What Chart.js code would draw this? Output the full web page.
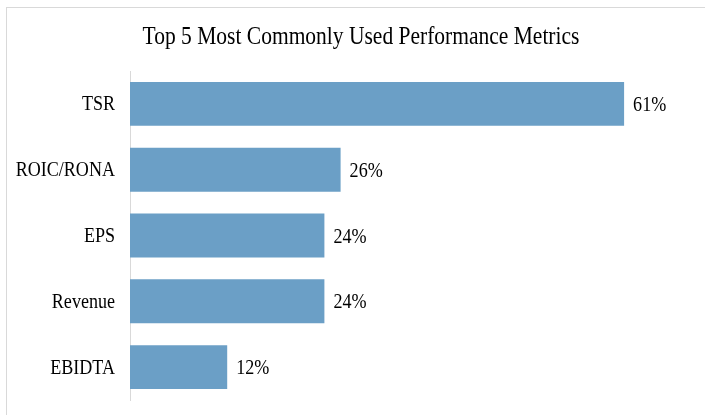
<!DOCTYPE html>
<html lang="en">
<head>
    <meta charset="UTF-8">
    <title>Top 5 Most Commonly Used Performance Metrics</title>
    <script src="https://cdn.jsdelivr.net/npm/chart.js@4.4.1/dist/chart.umd.min.js"></script>
    <style>
        body {
            margin: 0;
            background: #fff;
        }
        .wrap {
            position: relative;
            width: 705px;
            height: 415px;
        }
        .frame {
            position: absolute;
            left: 6px;
            top: 7px;
            width: 720px;
            height: 430px;
            border-left: 1px solid #d9d9d9;
            border-top: 1px solid #d9d9d9;
        }
        canvas {
            position: absolute;
            left: 0;
            top: 0;
        }
    </style>
</head>
<body>
    <div class="wrap">
        <div class="frame"></div>
        <canvas id="metricsChart" width="705" height="415"></canvas>
    </div>

    <script>
        const chartTitle = "Top 5 Most Commonly Used Performance Metrics";
        const metrics = ["TSR", "ROIC/RONA", "EPS", "Revenue", "EBIDTA"];
        const usage = [61, 26, 24, 24, 12];

        const serif = '"Liberation Serif", "Times New Roman", serif';
        const squeeze = 0.86; // the original text is a bit narrow

        function narrowText(ctx, text, x, y, align, size) {
            ctx.save();
            ctx.translate(x, y);
            ctx.scale(squeeze, 1);
            ctx.font = size + "px " + serif;
            ctx.fillStyle = "#000";
            ctx.textAlign = align;
            ctx.textBaseline = "alphabetic";
            ctx.fillText(text, 0, 0);
            ctx.restore();
        }

        // title, category names and percent labels
        const textLayer = {
            id: "textLayer",
            afterDatasetsDraw(chart) {
                const ctx = chart.ctx;
                const yScale = chart.scales.y;
                const meta = chart.getDatasetMeta(0);

                narrowText(ctx, chartTitle, 361, 44, "center", 25);

                metrics.forEach((name, i) => {
                    const y = yScale.getPixelForValue(i);
                    narrowText(ctx, name, yScale.right - 15, y + 6.5, "right", 21);
                });

                meta.data.forEach((bar, i) => {
                    narrowText(ctx, usage[i] + "%", bar.x + 9, bar.y + 7, "left", 21);
                });
            }
        };

        new Chart(document.getElementById("metricsChart"), {
            type: "bar",
            data: {
                labels: metrics,
                datasets: [{
                    data: usage,
                    backgroundColor: "#6b9fc6",
                    borderWidth: 0,
                    categoryPercentage: 1,
                    barPercentage: 0.667
                }]
            },
            options: {
                indexAxis: "y",
                responsive: false,
                animation: false,
                layout: {
                    padding: { left: 0, right: 8, top: 71, bottom: 15 }
                },
                plugins: {
                    legend: { display: false },
                    tooltip: { enabled: false },
                    title: { display: false }
                },
                scales: {
                    x: {
                        display: false,
                        min: 0,
                        max: 70
                    },
                    y: {
                        afterFit(scale) {
                            scale.width = 130;
                        },
                        grid: { display: false, drawTicks: false },
                        border: { display: true, color: "#d9d9d9", width: 1 },
                        ticks: { display: false }
                    }
                }
            },
            plugins: [textLayer]
        });
    </script>
</body>
</html>
